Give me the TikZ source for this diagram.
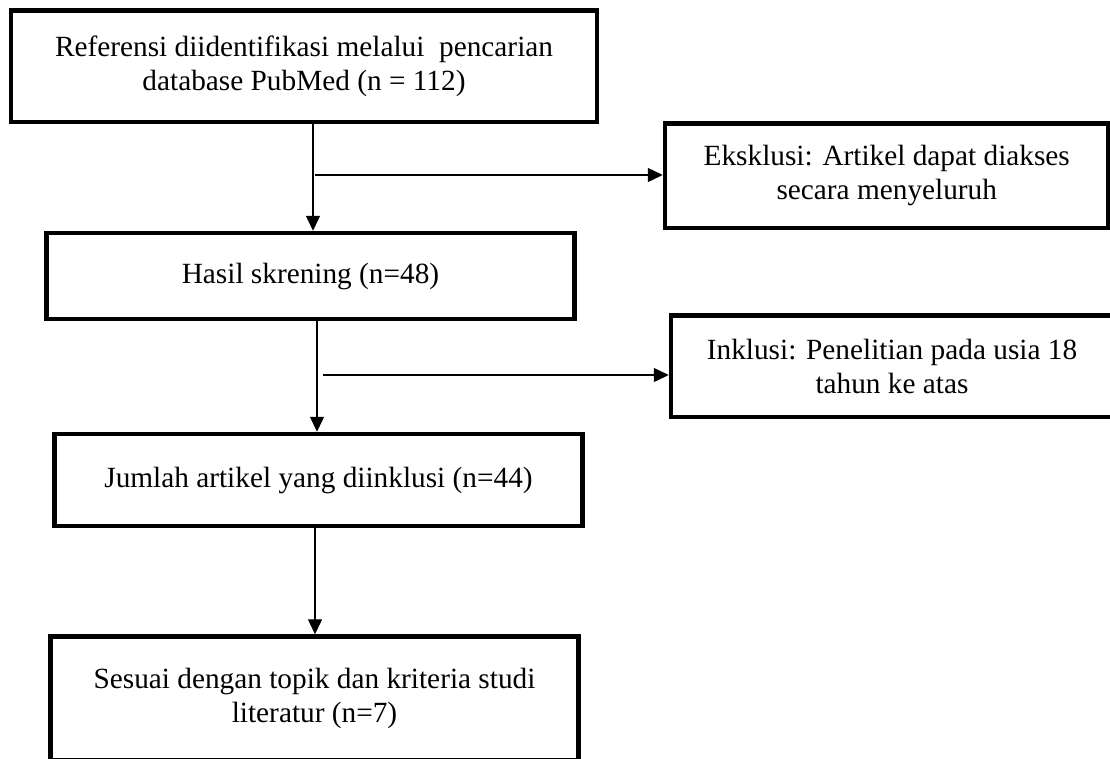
\documentclass[tikz,border=0pt]{standalone}
\usepackage{fontspec}
\setmainfont{Liberation Serif}
\usetikzlibrary{arrows.meta}
\begin{document}
\begin{tikzpicture}[x=1pt,y=-1pt,
  box/.style={draw,line width=4.5pt,align=center,inner sep=0pt,
    font=\fontsize{29.3}{34}\selectfont},
  arr/.style={line width=1.4pt,-{Triangle[length=15pt,width=14pt]}}]
\useasboundingbox (0,0) rectangle (1110,758);
\clip (0,0) rectangle (1110,758);
\node[box,minimum width=586pt,minimum height=111.5pt] (b1) at (304,66.25)
  {Referensi diidentifikasi melalui~ pencarian\\database PubMed (n = 112)};
\node[box,minimum width=443.5pt,minimum height=104.5pt] (ex) at (886.75,175.75)
  {Eksklusi: Artikel dapat diakses\\secara menyeluruh};
\node[box,minimum width=528pt,minimum height=86pt] (b3) at (310.5,276)
  {Hasil skrening (n=48)};
\node[box,minimum width=442pt,minimum height=101.5pt] (in) at (892,366.25)
  {Inklusi: Penelitian pada usia 18\\tahun ke atas};
\node[box,minimum width=528pt,minimum height=92pt] (b5) at (318.5,480)
  {Jumlah artikel yang diinklusi (n=44)};
\node[box,minimum width=528pt,minimum height=123.5pt] (b6) at (314.5,698.25)
  {Sesuai dengan topik dan kriteria studi\\literatur (n=7)};
\coordinate (a1) at (313,0);
\coordinate (a2) at (317,0);
\coordinate (a3) at (315,0);
\coordinate (j1) at (315,175);
\coordinate (j2) at (323,375);
\draw[arr] (b1.south -| a1) -- (b3.north -| a1);
\draw[arr] (j1) -- (j1 -| ex.west);
\draw[arr] (b3.south -| a2) -- (b5.north -| a2);
\draw[arr] (j2) -- (j2 -| in.west);
\draw[arr] (b5.south -| a3) -- (b6.north -| a3);
\end{tikzpicture}
\end{document}
